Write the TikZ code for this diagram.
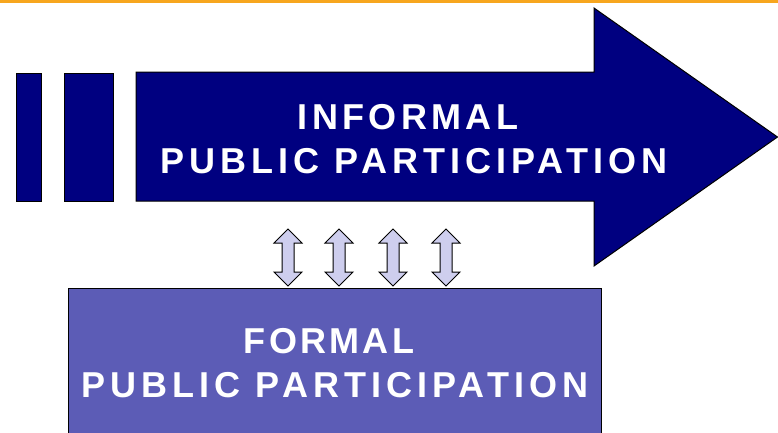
\documentclass[tikz,border=0pt]{standalone}
\usepackage{fontspec}
\setmainfont{Liberation Sans}
\newfontfamily\spacedA[LetterSpace=12]{Liberation Sans}
\newfontfamily\spacedB[LetterSpace=14]{Liberation Sans}
\newfontfamily\spacedC[LetterSpace=9]{Liberation Sans}
\definecolor{navyfill}{RGB}{0,0,128}
\definecolor{formalfill}{RGB}{92,92,182}
\definecolor{arrowlight}{RGB}{206,206,238}
\definecolor{topline}{RGB}{247,166,30}
\tikzset{
  bar/.style={fill=navyfill, draw=black, line width=1pt},
  dblarrow/.style={fill=arrowlight, draw=black, line width=1pt, line join=miter},
  label/.style={text=white, anchor=base, inner sep=0pt},
  big/.style={font=#1\bfseries\fontsize{36}{44}\selectfont}
}
\begin{document}
\begin{tikzpicture}[x=1pt,y=-1pt]
\useasboundingbox (0,0) rectangle (778,432);
% orange rule at top
\fill[topline] (0,0) rectangle (778,2.5);
% left bars
\draw[bar] (16,73) rectangle (41,201);
\draw[bar] (64,73) rectangle (113,201);
% big arrow
\draw[bar, line join=miter] (136,72) -- (594,72) -- (594,8) -- (777.5,137) -- (594,266) -- (594,201) -- (136,201) -- cycle;
\node[label, big=\spacedA] (informal1) at (408,129) {INFORMAL};
\node[label, big=\spacedB] (informal2) at (414,173) {PUBLIC PARTICIPATION};
% formal box
\draw[fill=formalfill, draw=black, line width=1pt] (68,288) -- (68,433) -- (601,433) -- (601,288) -- cycle;
\node[label, big=\spacedC] (formal1) at (329,353) {FORMAL};
\node[label, big=\spacedB] (formal2) at (335,397) {PUBLIC PARTICIPATION};
% double arrows
\foreach \cx in {288,339,393,446}{
  \draw[dblarrow] (\cx,229) -- (\cx+14,243) -- (\cx+6,243) -- (\cx+6,272) -- (\cx+14,272) -- (\cx,286) -- (\cx-14,272) -- (\cx-6,272) -- (\cx-6,243) -- (\cx-14,243) -- cycle;
}
\end{tikzpicture}
\end{document}
